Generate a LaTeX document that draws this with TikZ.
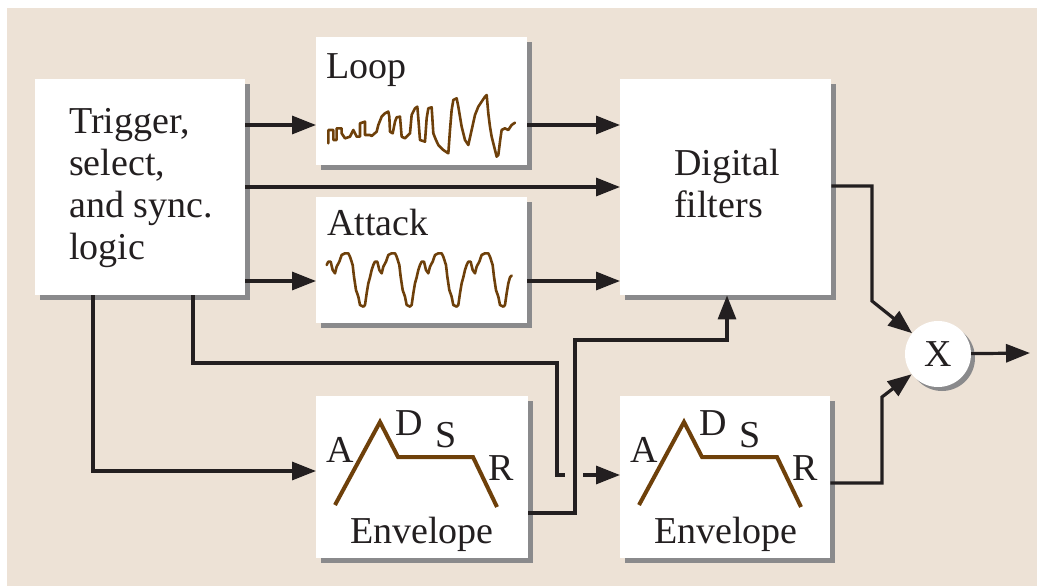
\documentclass[tikz,border=0pt]{standalone}
\usepackage{fontspec}
\setmainfont{Liberation Serif}
\newfontfamily\timesfont{Liberation Serif}
\usetikzlibrary{arrows.meta,shadows}
\definecolor{bg}{RGB}{237,226,214}
\definecolor{shd}{RGB}{138,138,140}
\definecolor{ink}{RGB}{35,31,32}
\definecolor{wavec}{RGB}{110,64,10}
\begin{document}
\begin{tikzpicture}[x=1pt,y=-1pt,
 box/.style={fill=white,rectangle,inner sep=0pt,anchor=north west,
   drop shadow={shadow xshift=5pt,shadow yshift=-5pt,fill=shd,opacity=1}},
 conn/.style={draw=ink,line width=3.2pt},
 arr/.style={conn,-{Triangle[length=24pt,width=18pt]}},
 lbl/.style={text=ink,font=\timesfont\fontsize{38}{42}\selectfont,inner sep=0pt,anchor=base west},
 wave/.style={draw=wavec,line width=2.6pt,line join=round,line cap=round},
 adsr/.style={draw=wavec,line width=4pt,line join=miter}]
\useasboundingbox (0,0) rectangle (1037,586);
\fill[white] (0,0) rectangle (1037,586);
\fill[bg] (7,8) rectangle (1037,586);

% boxes
\node[box,minimum width=210pt,minimum height=216pt] (trig) at (35,79) {};
\node[box,minimum width=211pt,minimum height=128pt] (loop) at (316,37) {};
\node[box,minimum width=211pt,minimum height=126pt] (attack) at (316,197) {};
\node[box,minimum width=211pt,minimum height=216pt] (df) at (620,79) {};
\node[box,minimum width=212pt,minimum height=162pt] (env1) at (316,396) {};
\node[box,minimum width=210pt,minimum height=162pt] (env2) at (620,396) {};
\node[circle,fill=white,minimum size=66pt,inner sep=0pt,text=ink,
  font=\timesfont\fontsize{38}{42}\selectfont,
  drop shadow={shadow xshift=4pt,shadow yshift=-4pt,fill=shd,opacity=1}] (mult) at (938,354) {X};

% texts
\node[lbl] (t1) at (69,133) {Trigger,};
\node[lbl] (t2) at (69,175) {select,};
\node[lbl] (t3) at (69,217) {and sync.};
\node[lbl] (t4) at (69,259) {logic};
\node[lbl] (d1) at (674,175) {Digital};
\node[lbl] (d2) at (674,217) {filters};
\node[lbl] (lp) at (326,78) {Loop};
\node[lbl] (at) at (327,235) {Attack};
\node[lbl,anchor=base] (e1) at (422,543) {Envelope};
\node[lbl,anchor=base] (e2) at (726,543) {Envelope};
\foreach \dx/\n in {0/a,304/b}{
  \node[lbl] (A\n) at (326+\dx,462) {A};
  \node[lbl] (D\n) at (395+\dx,435) {D};
  \node[lbl] (S\n) at (435+\dx,447) {S};
  \node[lbl] (R\n) at (488+\dx,480) {R};
  \draw[adsr] (335+\dx,505) -- (380+\dx,422) -- (398+\dx,457) -- (473+\dx,457) -- (497+\dx,507);
}

% loop waveform
\begin{scope}[shift={(310,30)},x=0.3333pt,y=-0.3333pt]
\draw[wave] (55,340) -- (55,300) -- (70,300) -- (70,330) -- (80,330) -- (80,295) -- (95,295)
 -- (95,310) -- (105,325) -- (120,320) -- (130,300) -- (140,320) -- (150,320) -- (150,280)
 -- (165,275) -- (165,315) -- (180,315) -- (185,318) -- (200,305) -- (205,285) -- (215,260)
 -- (225,250) -- (235,245) -- (238,260) -- (240,305) -- (248,310) -- (255,275) -- (260,262)
 -- (270,260) -- (275,320) -- (285,325) -- (300,310) -- (305,255) -- (315,235) -- (322,230)
 -- (325,265) -- (330,330) -- (345,335) -- (350,265) -- (355,235) -- (365,232) -- (370,310)
 -- (378,330) -- (385,345) -- (400,360) -- (415,370) -- (420,300) -- (425,240) -- (430,210)
 -- (440,205) -- (445,230) -- (450,260) -- (455,290) -- (465,330) -- (475,345) -- (485,300)
 -- (495,255) -- (505,230) -- (515,215) -- (525,200) -- (530,195) -- (535,250) -- (540,290)
 -- (545,320) -- (555,360) -- (560,380) -- (565,375) -- (570,335) -- (575,300) -- (585,295)
 -- (595,300) -- (605,285) -- (615,278);
\end{scope}

% attack waveform
\begin{scope}[shift={(310,190)},x=0.3333pt,y=-0.3333pt]
\draw[wave] (50,225) foreach \k in {1,2,3}{
  -- ++(5,-10) -- ++(7,0) -- ++(6,25) -- ++(7,10) -- ++(5,-20) -- ++(8,-15)
  -- ++(7,-20) -- ++(10,-5) -- ++(10,0) -- ++(5,10) -- ++(8,25) -- ++(4,35)
  -- ++(6,40) -- ++(7,20) -- ++(5,25) -- ++(10,5) -- ++(5,-5) -- ++(5,-35)
  -- ++(5,-30) -- ++(5,-18) -- ++(5,-22) -- ++(5,-15)}
  -- ++(5,-10) -- ++(7,0) -- ++(6,25) -- ++(7,10) -- ++(5,-20) -- ++(8,-15)
  -- ++(7,-20) -- ++(10,-5) -- ++(10,0) -- ++(5,10) -- ++(8,25) -- ++(4,35)
  -- ++(6,40) -- ++(7,20) -- ++(5,25) -- ++(10,5) -- ++(5,-5) -- ++(5,-35)
  -- ++(5,-30) -- ++(5,-18) -- ++(5,-5);
\end{scope}

% connectors
\draw[arr] (trig.east |- 0,125) -- (loop.west |- 0,125);
\draw[arr] (trig.east |- 0,187) -- (df.west |- 0,187);
\draw[arr] (trig.east |- 0,281) -- (attack.west |- 0,281);
\draw[arr] (loop.east |- 0,125) -- (df.west |- 0,125);
\draw[arr] (attack.east |- 0,281) -- (df.west |- 0,281);
\draw[arr] (trig.south -| 93,0) |- (env1.west |- 0,471);
\coordinate (jumpa) at (565,475);
\coordinate (jumpb) at (583,475);
\draw[conn] (trig.south -| 193,0) |- (557,363) |- (jumpa);
\draw[arr] (jumpb) -- (env2.west |- jumpb);
\draw[arr] (env1.east |- 0,513) -| (575,340) -| (df.south -| 727,0);
\draw[arr] (df.east |- 0,186) -| (872,301) -- (mult);
\draw[arr] (env2.east |- 0,483) -| (882,397) -- (mult);
\coordinate (out) at (1030,353);
\draw[arr] (mult) -- (out);
\end{tikzpicture}
\end{document}
